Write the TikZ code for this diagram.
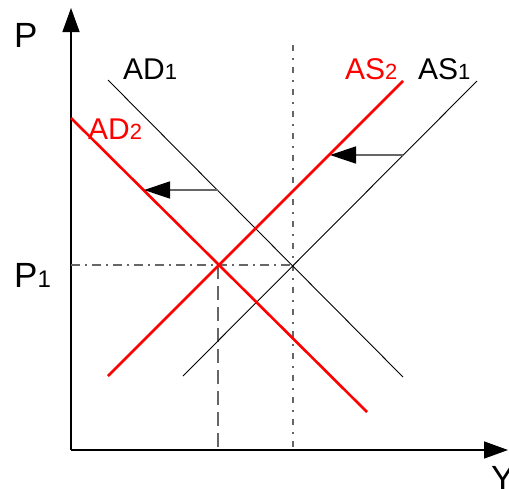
\documentclass[tikz,border=0pt]{standalone}
\usepackage{fontspec}
\setmainfont{Liberation Sans}
\usetikzlibrary{arrows.meta}
\newcommand\subdig[1]{{\fontsize{22}{22}\selectfont #1}}
\newcommand\subdigbig[1]{{\fontsize{24}{24}\selectfont #1}}
\begin{document}
\begin{tikzpicture}[x=1pt,y=-1pt,
  thinline/.style={line width=0.9pt,black},
  redline/.style={line width=2.6pt,red},
  axis/.style={line width=1.4pt,black,-{Triangle[length=24pt,width=17pt]}},
  shiftarrow/.style={line width=1.4pt,black!60,-{Triangle[length=26pt,width=17pt,color=black]}},
  guide/.style={line width=1.3pt,black!60},
  lbl/.style={anchor=base west,inner sep=0pt,font=\fontsize{30}{30}\selectfont},
  biglbl/.style={anchor=base west,inner sep=0pt,font=\fontsize{35}{35}\selectfont}
]
\useasboundingbox (0,0) rectangle (509,488);
% axes
\coordinate (O) at (71,450);
\coordinate (Ytop) at (71,8);
\coordinate (Xend) at (508,450);
\draw[axis] (O) -- (Ytop);
\draw[axis] (O) -- (Xend);
% key points
\coordinate (E1) at (293,265);
\coordinate (E2) at (218,265);
\coordinate (P1a) at (71,265);
\coordinate (Y1b) at (293,450);
\coordinate (Y1t) at (293,45);
\coordinate (Y2b) at (218,450);
% guides
\draw[guide,dash pattern=on 9pt off 5pt on 2pt off 5pt] (P1a) -- (E1);
\draw[guide,dash pattern=on 14pt off 7pt] (E2) -- (Y2b);
\draw[guide,dash pattern=on 6pt off 7pt on 2pt off 7pt] (Y1t) -- (Y1b);
% curves
\coordinate (AD1a) at (108,80);   \coordinate (AD1b) at (403,377);
\coordinate (AS1a) at (183,376);  \coordinate (AS1b) at (477,81);
\coordinate (AD2a) at (71,118);   \coordinate (AD2b) at (367,412);
\coordinate (AS2a) at (108,376);  \coordinate (AS2b) at (403,81);
\draw[thinline] (AD1a) -- (AD1b);
\draw[thinline] (AS1a) -- (AS1b);
\draw[redline] (AD2a) -- (AD2b);
\draw[redline] (AS2a) -- (AS2b);
% shift arrows
\coordinate (sa1) at (403,155); \coordinate (sa2) at (330,155);
\coordinate (sd1) at (218,190); \coordinate (sd2) at (144,190);
\draw[shiftarrow] (sa1) -- (sa2);
\draw[shiftarrow] (sd1) -- (sd2);
% labels
\node[biglbl] (lP) at (14,47) {P};
\node[biglbl] (lY) at (491,490) {Y};
\node[biglbl] (lP1) at (14,287) {P\subdigbig{1}};
\node[lbl] (lAD1) at (123,79) {AD\subdig{1}};
\node[lbl,red] (lAD2) at (88,139) {AD\subdig{2}};
\node[lbl,red] (lAS2) at (345,79) {AS\subdig{2}};
\node[lbl] (lAS1) at (418,79) {AS\subdig{1}};
\end{tikzpicture}
\end{document}
